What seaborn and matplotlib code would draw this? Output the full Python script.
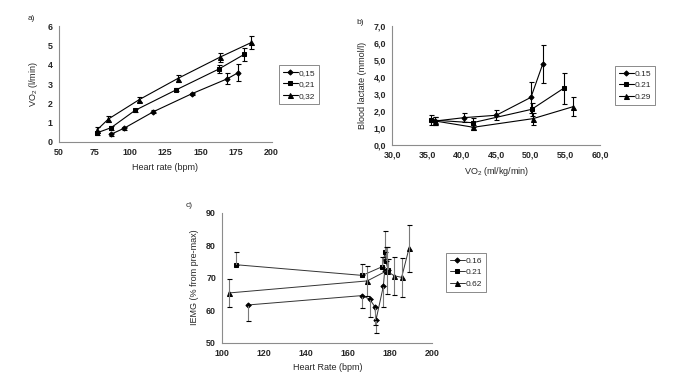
import matplotlib
matplotlib.use("Agg")
import matplotlib.pyplot as plt
import seaborn as sns
import numpy as np
from matplotlib.ticker import FuncFormatter

# ---------------- data ----------------
# panel a: VO2 vs heart rate
a_labels = ["0,15", "0,21", "0,32"]
a_hr_015 = [87.1, 96.0, 116.7, 143.7, 168.8, 176.5]
a_vo2_015 = [0.41, 0.71, 1.57, 2.50, 3.28, 3.60]
a_err_015 = [0.08, 0.07, 0.07, 0.06, 0.28, 0.45]
a_hr_021 = [76.8, 86.9, 103.8, 132.9, 162.7, 180.8]
a_vo2_021 = [0.47, 0.74, 1.64, 2.71, 3.78, 4.55]
a_err_021 = [0.10, 0.10, 0.08, 0.08, 0.20, 0.33]
a_hr_032 = [77.2, 85.0, 106.8, 133.8, 163.6, 185.7]
a_vo2_032 = [0.64, 1.19, 2.20, 3.29, 4.40, 5.16]
a_err_032 = [0.15, 0.17, 0.15, 0.20, 0.23, 0.35]

# panel b: blood lactate vs VO2
b_labels = ["0.15", "0.21", "0.29"]
b_vo2_015 = [36.2, 40.4, 45.0, 50.0, 51.7]
b_lac_015 = [1.40, 1.60, 1.74, 2.80, 4.77]
b_err_015 = [0.25, 0.27, 0.30, 0.90, 1.15]
b_vo2_021 = [35.6, 41.6, 50.1, 54.7]
b_lac_021 = [1.46, 1.30, 2.09, 3.33]
b_err_021 = [0.30, 0.25, 0.40, 0.90]
b_vo2_029 = [36.2, 41.7, 50.3, 56.1]
b_lac_029 = [1.40, 1.03, 1.54, 2.25]
b_err_029 = [0.25, 0.15, 0.35, 0.58]

# panel c: IEMG vs heart rate
c_labels = ["0.16", "0.21", "0.62"]
c_hr_016 = [112.1, 166.7, 170.3, 172.7, 173.2, 176.7, 177.3]
c_emg_016 = [61.6, 64.5, 63.3, 61.0, 57.0, 67.4, 72.0]
c_lo_016 = [4.8, 3.8, 5.4, 5.5, 4.1, 6.3, 0.0]
c_hr_021 = [106.3, 166.7, 176.2, 177.5, 177.8, 179.0]
c_emg_021 = [74.0, 70.7, 73.4, 77.9, 75.2, 72.3]
c_hi_021 = [3.8, 3.4, 3.0, 6.4, 4.3, 3.4]
c_hr_062 = [103.2, 169.0, 178.3, 181.8, 185.4, 188.9]
c_emg_062 = [65.3, 69.0, 72.1, 70.6, 70.1, 79.0]
c_err_062 = [4.3, 4.6, 7.2, 5.8, 6.0, 7.3]

# ---------------- style ----------------
sns.set_style("white")
plt.rcParams["font.family"] = ["Liberation Sans", "DejaVu Sans"]
plt.rcParams["mathtext.fontset"] = "custom"
plt.rcParams["mathtext.rm"] = "Liberation Sans"
plt.rcParams["mathtext.bf"] = "Liberation Sans:bold"

FS = 6.4
LFS = 6.5
SPINE = "#8c8c8c"

fig = plt.figure(figsize=(6.76, 3.85), dpi=100)
fig.patch.set_facecolor("white")

ax_a = fig.add_axes([0.0868, 0.6312, 0.3151, 0.3005])
ax_b = fig.add_axes([0.5803, 0.6242, 0.3077, 0.3075])
ax_c = fig.add_axes([0.3288, 0.1099, 0.3107, 0.3377])

markers = ["D", "s", "^"]
msizes = [2.6, 3.4, 3.6]


def style_axes(ax):
    for s in ["top", "right"]:
        ax.spines[s].set_visible(False)
    for s in ["left", "bottom"]:
        ax.spines[s].set_color(SPINE)
        ax.spines[s].set_linewidth(0.8)
    ax.tick_params(axis="both", which="both", direction="out", length=2.5,
                   width=0.6, color=SPINE, labelsize=FS, pad=2)
    for lab in ax.get_xticklabels() + ax.get_yticklabels():
        lab.set_fontweight("bold")
    ax.grid(False)


def draw_series(ax, xs, ys, lab, mk, ms, col, ecol, yerr, lw=0.8):
    sns.lineplot(x=xs, y=ys, ax=ax, sort=False, estimator=None, color=col,
                 marker=mk, markersize=ms, markeredgecolor=col,
                 markerfacecolor=col, linewidth=lw, label=lab)
    ax.errorbar(xs, ys, yerr=yerr, fmt="none", ecolor=ecol, elinewidth=0.8,
                capsize=1.8, capthick=0.8)


# ---- panel a ----
for xs, ys, er, lab, mk, ms in zip([a_hr_015, a_hr_021, a_hr_032],
                                   [a_vo2_015, a_vo2_021, a_vo2_032],
                                   [a_err_015, a_err_021, a_err_032],
                                   a_labels, markers, msizes):
    draw_series(ax_a, xs, ys, lab, mk, ms, "black", "black", er)
ax_a.set_xlim(50, 200)
ax_a.set_ylim(0, 6)
ax_a.set_xticks([50, 75, 100, 125, 150, 175, 200])
ax_a.set_yticks([0, 1, 2, 3, 4, 5, 6])
ax_a.set_xlabel("Heart rate (bpm)", fontsize=LFS, labelpad=4)
ax_a.set_ylabel(r"VO$_2$ (l/min)", fontsize=LFS, labelpad=5)
style_axes(ax_a)

# ---- panel b ----
for xs, ys, er, lab, mk, ms in zip([b_vo2_015, b_vo2_021, b_vo2_029],
                                   [b_lac_015, b_lac_021, b_lac_029],
                                   [b_err_015, b_err_021, b_err_029],
                                   b_labels, markers, msizes):
    draw_series(ax_b, xs, ys, lab, mk, ms, "black", "black", er)
ax_b.set_xlim(30, 60)
ax_b.set_ylim(0, 7)
ax_b.set_xticks([30, 35, 40, 45, 50, 55, 60])
ax_b.set_yticks([0, 1, 2, 3, 4, 5, 6, 7])
comma = FuncFormatter(lambda v, p: f"{v:.1f}".replace(".", ","))
ax_b.xaxis.set_major_formatter(comma)
ax_b.yaxis.set_major_formatter(comma)
ax_b.set_xlabel(r"VO$_2$ (ml/kg/min)", fontsize=LFS, labelpad=4)
ax_b.set_ylabel("Blood lactate (mmol/l)", fontsize=LFS, labelpad=5)
style_axes(ax_b)

# ---- panel c ----
LC = "#333333"
EC = "#7a7a7a"
c_errs = [
    [c_lo_016, [0.0] * len(c_lo_016)],
    [[0.0] * len(c_hi_021), c_hi_021],
    [c_err_062, c_err_062],
]
for xs, ys, er, lab, mk, ms in zip([c_hr_016, c_hr_021, c_hr_062],
                                   [c_emg_016, c_emg_021, c_emg_062],
                                   c_errs, c_labels, markers, msizes):
    draw_series(ax_c, xs, ys, lab, mk, ms, "black", EC, er, lw=0.7)
for ln in ax_c.get_lines():
    ln.set_color(LC)
    ln.set_markerfacecolor("black")
    ln.set_markeredgecolor("black")
ax_c.set_xlim(100, 200)
ax_c.set_ylim(50, 90)
ax_c.set_xticks([100, 120, 140, 160, 180, 200])
ax_c.set_yticks([50, 60, 70, 80, 90])
ax_c.set_xlabel("Heart Rate (bpm)", fontsize=LFS, labelpad=4)
ax_c.set_ylabel("IEMG (% from pre-max)", fontsize=LFS, labelpad=5)
style_axes(ax_c)

# ---- legends ----
def place_legend(ax, x0, y0):
    h, l = ax.get_legend_handles_labels()
    leg = ax.legend(h, l, loc="upper left",
                    bbox_to_anchor=(x0 / 676, 1 - y0 / 385),
                    bbox_transform=fig.transFigure, fontsize=6.0,
                    frameon=True, fancybox=False, handlelength=1.8,
                    handletextpad=0.1, borderpad=0.45, labelspacing=0.45,
                    borderaxespad=0)
    leg.get_frame().set_edgecolor("#555555")
    leg.get_frame().set_linewidth(0.6)
    return leg

place_legend(ax_a, 279, 65)
place_legend(ax_b, 615, 66)
place_legend(ax_c, 446, 253)

# ---- panel letters ----
fig.text(28 / 676, 1 - 19 / 385, "a)", fontsize=6.0, va="center")
fig.text(356 / 676, 1 - 23 / 385, "b)", fontsize=6.0, va="center")
fig.text(186 / 676, 1 - 206 / 385, "c)", fontsize=6.0, va="center")

fig.savefig("out.png", dpi=100, facecolor="white")
